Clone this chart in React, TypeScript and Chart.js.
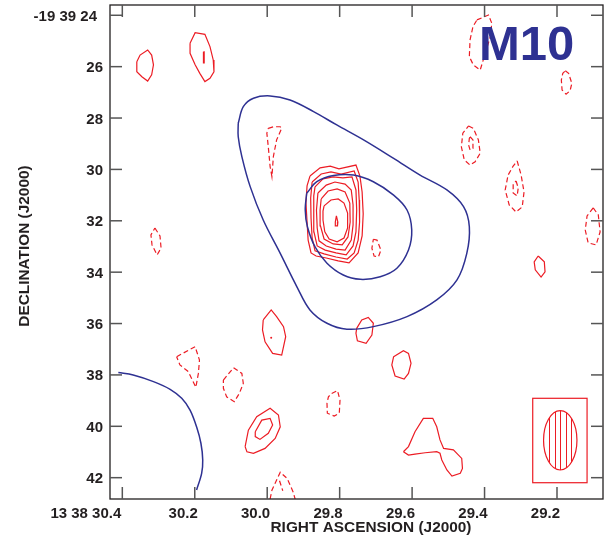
import React, { useEffect, useRef } from "react";
import { Chart, registerables } from "chart.js";
Chart.register(...registerables);

type P = [number, number];

// axis ticks
const raTicks = [30.4, 30.2, 30.0, 29.8, 29.6, 29.4, 29.2];
const raTickLabels = ["13 38 30.4", "30.2", "30.0", "29.8", "29.6", "29.4", "29.2"];
const decTicks = [24, 26, 28, 30, 32, 34, 36, 38, 40, 42];
const decTickLabels = ["-19 39 24", "26", "28", "30", "32", "34", "36", "38", "40", "42"];
const raRange = [29.073, 30.434];
const decRange = [23.6, 42.83];

const xTitle = "RIGHT ASCENSION (J2000)";
const yTitle = "DECLINATION (J2000)";
const fieldName = "M10";

// beam: [ra, dec, semi-minor (s), semi-major (arcsec)], box [ra1, ra2, dec1, dec2]
const beam = [29.191, 40.545, 0.0461, 1.156];
const beamBox = [29.267, 29.117, 38.91, 42.196];

// ---- blue (low-resolution) contours ----
const blueOuter: P[] = [
  [30.080, 28.20], [30.066, 27.56], [30.038, 27.23], [29.992, 27.14], [29.937, 27.30],
  [29.872, 27.75], [29.808, 28.27], [29.734, 28.85], [29.651, 29.57], [29.578, 30.22],
  [29.504, 30.80], [29.458, 31.45], [29.442, 32.23], [29.449, 33.27], [29.476, 34.30],
  [29.532, 35.08], [29.614, 35.73], [29.707, 36.12], [29.780, 36.22], [29.835, 35.99],
  [29.882, 35.47], [29.918, 34.57], [29.964, 33.27], [30.011, 31.97], [30.047, 30.67],
  [30.070, 29.50], [30.080, 28.73],
];
const blueInner: P[] = [
  [29.891, 30.93], [29.863, 30.48], [29.817, 30.24], [29.762, 30.22], [29.707, 30.48],
  [29.651, 31.00], [29.614, 31.58], [29.601, 32.36], [29.610, 33.14], [29.642, 33.85],
  [29.688, 34.18], [29.743, 34.28], [29.790, 34.11], [29.835, 33.65], [29.868, 33.01],
  [29.889, 32.23], [29.895, 31.58],
];
const blueArc: P[] = [
  [30.411, 37.91], [30.370, 38.00], [30.314, 38.26], [30.268, 38.56], [30.236, 38.91],
  [30.213, 39.37], [30.195, 40.02], [30.183, 40.66], [30.178, 41.31], [30.181, 41.83],
  [30.195, 42.48],
];

// ---- red positive contours (solid) ----
const coreR1: P[] = [
  [29.882, 30.26], [29.854, 29.94], [29.826, 29.87], [29.802, 29.98], [29.755, 29.83],
  [29.744, 30.26], [29.738, 30.88], [29.735, 31.73], [29.738, 32.59], [29.749, 33.25],
  [29.774, 33.64], [29.804, 33.56], [29.837, 33.45], [29.865, 33.37], [29.879, 33.25],
  [29.887, 32.75], [29.890, 32.05], [29.893, 31.31], [29.890, 30.64],
];
const coreR2: P[] = [
  [29.876, 30.49], [29.851, 30.18], [29.824, 30.10], [29.796, 30.18], [29.760, 30.06],
  [29.749, 30.49], [29.746, 31.19], [29.745, 32.05], [29.749, 32.75], [29.760, 33.25],
  [29.779, 33.49], [29.810, 33.41], [29.843, 33.29], [29.868, 33.17], [29.876, 32.67],
  [29.879, 31.89], [29.880, 31.11],
];
const coreR3: P[] = [
  [29.868, 30.68], [29.846, 30.37], [29.818, 30.29], [29.791, 30.33], [29.766, 30.29],
  [29.755, 30.80], [29.753, 31.58], [29.755, 32.43], [29.763, 32.98], [29.782, 33.33],
  [29.810, 33.25], [29.840, 33.14], [29.862, 32.98], [29.871, 32.43], [29.872, 31.66],
  [29.871, 31.03],
];
const coreR4: P[] = [
  [29.860, 30.92], [29.837, 30.61], [29.813, 30.49], [29.785, 30.57], [29.768, 30.80],
  [29.763, 31.38], [29.763, 32.16], [29.768, 32.75], [29.785, 33.14], [29.810, 33.10],
  [29.837, 32.98], [29.857, 32.78], [29.862, 32.28], [29.864, 31.58],
];
const coreR5: P[] = [
  [29.851, 31.15], [29.832, 30.84], [29.807, 30.76], [29.785, 30.88], [29.772, 31.31],
  [29.771, 32.05], [29.777, 32.63], [29.793, 32.94], [29.818, 32.90], [29.843, 32.71],
  [29.853, 32.20], [29.854, 31.58],
];
const coreR6: P[] = [
  [29.843, 31.42], [29.824, 31.19], [29.804, 31.15], [29.788, 31.31], [29.778, 31.70],
  [29.778, 32.28], [29.788, 32.67], [29.807, 32.82], [29.829, 32.71], [29.841, 32.43],
  [29.846, 31.97], [29.846, 31.62],
];
const corePeak: P[] = [[29.809, 31.81], [29.805, 32.05], [29.806, 32.20], [29.811, 32.20], [29.812, 32.05]];

const posA: P[] = [
  [30.360, 25.81], [30.351, 25.55], [30.330, 25.35], [30.319, 25.55], [30.314, 25.93],
  [30.319, 26.32], [30.330, 26.56], [30.346, 26.39], [30.360, 26.20],
];
const posB: P[] = [
  [30.213, 25.09], [30.199, 24.68], [30.172, 24.74], [30.158, 25.22], [30.149, 25.74],
  [30.147, 26.20], [30.158, 26.45], [30.172, 26.58], [30.186, 26.26], [30.199, 25.93],
  [30.213, 25.48],
];
const posBPeak: P[] = [[30.176, 25.42], [30.174, 25.42], [30.174, 25.85], [30.176, 25.85]];
const posC: P[] = [[29.252, 33.37], [29.235, 33.60], [29.233, 33.99], [29.244, 34.19], [29.260, 33.91], [29.263, 33.60]];
const posD: P[] = [
  [30.011, 35.86], [29.989, 35.47], [29.974, 35.73], [29.955, 36.12], [29.949, 36.51],
  [29.960, 37.23], [29.985, 37.16], [30.006, 36.71], [30.013, 36.25],
];
const posDot: P[] = [[29.989, 36.55]];
const posEOuter: P[] = [
  [30.061, 40.79], [30.052, 40.15], [30.029, 39.63], [29.992, 39.30], [29.969, 39.56],
  [29.964, 40.02], [29.978, 40.47], [30.006, 40.86], [30.038, 41.05], [30.056, 40.99],
];
const posEInner: P[] = [
  [30.033, 40.21], [30.015, 39.76], [29.992, 39.69], [29.985, 39.95], [29.997, 40.27],
  [30.020, 40.51], [30.033, 40.40],
];
const posF: P[] = [
  [29.753, 36.19], [29.739, 35.86], [29.721, 35.76], [29.707, 35.99], [29.711, 36.45],
  [29.727, 36.77], [29.751, 36.67], [29.755, 36.38],
];
const posG: P[] = [
  [29.651, 37.29], [29.624, 37.06], [29.610, 37.16], [29.603, 37.55], [29.610, 37.94],
  [29.622, 38.16], [29.647, 38.04], [29.656, 37.61],
];
const posH: P[] = [
  [29.624, 40.99], [29.610, 40.79], [29.592, 40.21], [29.569, 39.69], [29.543, 39.69],
  [29.532, 40.02], [29.523, 40.53], [29.513, 40.86], [29.486, 40.92], [29.463, 41.25],
  [29.461, 41.64], [29.467, 41.83], [29.490, 41.94], [29.504, 41.70], [29.518, 41.31],
  [29.523, 41.05], [29.532, 40.99], [29.564, 41.03], [29.592, 41.08], [29.610, 41.12],
];

// ---- red negative contours (dashed) ----
const negA: P[] = [
  [29.997, 28.40], [29.983, 28.34], [29.964, 28.34], [29.960, 28.40], [29.974, 28.85],
  [29.983, 29.50], [29.987, 30.28], [29.992, 29.89], [29.997, 29.12], [30.001, 28.59],
];
const negB: P[] = [
  [29.421, 24.18], [29.389, 23.99], [29.380, 24.31], [29.384, 24.83], [29.398, 25.48],
  [29.412, 26.13], [29.431, 25.93], [29.442, 25.61], [29.440, 24.96], [29.432, 24.44],
];
const negC: P[] = [
  [29.177, 26.16], [29.168, 26.26], [29.159, 26.65], [29.164, 26.94], [29.175, 27.07],
  [29.186, 26.91], [29.188, 26.52], [29.184, 26.26],
];
const negDOuter: P[] = [
  [29.444, 28.31], [29.431, 28.40], [29.417, 28.85], [29.412, 29.37], [29.426, 29.70],
  [29.440, 29.83], [29.456, 29.63], [29.464, 29.12], [29.460, 28.59],
];
const negDInner: P[] = [[29.440, 28.73], [29.432, 28.85], [29.432, 29.18], [29.440, 29.24], [29.444, 29.05], [29.442, 28.79]];
const negEOuter: P[] = [
  [29.310, 29.67], [29.299, 30.22], [29.291, 30.88], [29.296, 31.46], [29.313, 31.66],
  [29.332, 31.38], [29.343, 30.80], [29.335, 30.22], [29.321, 29.87],
];
const negEInner: P[] = [[29.313, 30.45], [29.307, 30.72], [29.310, 31.03], [29.321, 30.92], [29.321, 30.57]];
const negF: P[] = [[29.100, 31.50], [29.086, 31.77], [29.081, 32.43], [29.092, 32.94], [29.114, 32.86], [29.122, 32.36], [29.117, 31.81]];
const negG: P[] = [[30.310, 32.28], [30.296, 32.59], [30.293, 33.06], [30.304, 33.33], [30.318, 32.94], [30.321, 32.55]];
const negH: P[] = [[29.707, 32.72], [29.697, 32.75], [29.686, 33.14], [29.693, 33.40], [29.705, 33.37], [29.711, 33.07]];
const negI: P[] = [[30.250, 37.29], [30.199, 36.90], [30.187, 37.42], [30.190, 37.94], [30.197, 38.48], [30.218, 37.87], [30.241, 37.61]];
const negJ: P[] = [
  [30.121, 38.20], [30.093, 37.72], [30.070, 37.94], [30.066, 38.33], [30.077, 38.72],
  [30.091, 39.04], [30.112, 38.85], [30.121, 38.52],
];
const negK: P[] = [
  [29.822, 38.72], [29.806, 38.61], [29.799, 38.98], [29.801, 39.49], [29.815, 39.60],
  [29.834, 39.49], [29.835, 39.10], [29.831, 38.85],
];
const negLOpen: P[] = [[29.992, 42.83], [29.987, 42.49], [29.964, 41.79], [29.945, 42.03], [29.928, 42.57], [29.923, 42.83]];
const negLInnerOpen: P[] = [[29.966, 42.12], [29.957, 42.51]];

const RED = "#ec1c24";
const BLUE = "#2e3192";
const INK = "#231f20";

const closedPos = [coreR1, coreR2, coreR3, coreR4, coreR5, coreR6, corePeak, posA, posB, posBPeak, posC, posD, posEOuter, posEInner, posF, posG, posH];
const closedNeg = [negA, negB, negC, negDOuter, negDInner, negEOuter, negEInner, negF, negG, negH, negI, negJ, negK];
const openNeg = [negLOpen, negLInnerOpen];

function toXY(pts: P[], close: boolean) {
  const arr = pts.map(([x, y]) => ({ x, y }));
  if (close && pts.length > 1) arr.push({ x: pts[0][0], y: pts[0][1] });
  return arr;
}

function lineSet(pts: P[], close: boolean, color: string, width: number, dash: number[], tension: number) {
  return {
    data: toXY(pts, close),
    showLine: true,
    borderColor: color,
    borderWidth: width,
    borderDash: dash,
    pointRadius: 0,
    fill: false,
    tension,
  };
}

const framePlugin = {
  id: "framePlugin",
  afterDraw(chart: any) {
    const { ctx, chartArea: a } = chart;
    const x = chart.scales.x;
    const y = chart.scales.y;
    ctx.save();

    // beam box and hatched ellipse
    const bx1 = x.getPixelForValue(beamBox[0]);
    const bx2 = x.getPixelForValue(beamBox[1]);
    const by1 = y.getPixelForValue(beamBox[2]);
    const by2 = y.getPixelForValue(beamBox[3]);
    ctx.strokeStyle = RED;
    ctx.lineWidth = 1.2;
    ctx.strokeRect(bx1, by1, bx2 - bx1, by2 - by1);
    const cx = x.getPixelForValue(beam[0]);
    const cy = y.getPixelForValue(beam[1]);
    const rx = Math.abs(x.getPixelForValue(beam[0] - beam[2]) - cx);
    const ry = Math.abs(y.getPixelForValue(beam[1] + beam[3]) - cy);
    ctx.beginPath();
    ctx.ellipse(cx, cy, rx, ry, 0, 0, Math.PI * 2);
    ctx.stroke();
    ctx.save();
    ctx.beginPath();
    ctx.ellipse(cx, cy, rx, ry, 0, 0, Math.PI * 2);
    ctx.clip();
    ctx.lineWidth = 1;
    for (let k = -3; k <= 3; k++) {
      const lx = Math.round(cx + k * 5.6) + 0.5;
      ctx.beginPath();
      ctx.moveTo(lx, cy - ry);
      ctx.lineTo(lx, cy + ry);
      ctx.stroke();
    }
    ctx.restore();

    // frame
    ctx.strokeStyle = INK;
    ctx.lineWidth = 1.3;
    ctx.strokeRect(a.left, a.top, a.right - a.left, a.bottom - a.top);

    // inward ticks on all sides
    ctx.strokeStyle = "#555";
    ctx.lineWidth = 1.5;
    const seg = (x1: number, y1: number, x2: number, y2: number) => {
      ctx.beginPath();
      ctx.moveTo(x1, y1);
      ctx.lineTo(x2, y2);
      ctx.stroke();
    };
    raTicks.forEach((v) => {
      const px = x.getPixelForValue(v);
      seg(px, a.bottom, px, a.bottom - 12);
      seg(px, a.top, px, a.top + 12);
    });
    decTicks.forEach((v) => {
      const py = y.getPixelForValue(v);
      seg(a.left, py, a.left + 12, py);
      seg(a.right, py, a.right - 12, py);
    });

    // tick labels
    ctx.fillStyle = INK;
    ctx.font = "bold 15px 'Liberation Sans', Arial, sans-serif";
    ctx.textBaseline = "alphabetic";
    ctx.textAlign = "right";
    raTickLabels.forEach((t, i) => {
      const px = x.getPixelForValue(raTicks[i]);
      ctx.fillText(t, px + (i === 0 ? -1 : 3), a.bottom + 18.5);
    });
    decTickLabels.forEach((t, i) => {
      const py = y.getPixelForValue(decTicks[i]);
      ctx.fillText(t, a.left - (i === 0 ? 13 : 7), py + 5.5);
    });

    // axis titles
    ctx.font = "bold 15.4px 'Liberation Sans', Arial, sans-serif";
    ctx.textAlign = "center";
    ctx.fillText(xTitle, 371, a.bottom + 33);
    ctx.save();
    ctx.translate(28.5, 246);
    ctx.rotate(-Math.PI / 2);
    ctx.fillText(yTitle, 0, 0);
    ctx.restore();

    // field name
    ctx.fillStyle = BLUE;
    ctx.font = "bold 49px 'Liberation Sans', Arial, sans-serif";
    ctx.textAlign = "left";
    ctx.fillText(fieldName, 479, 60);

    ctx.restore();
  },
};

export default function App() {
  const ref = useRef<HTMLCanvasElement | null>(null);
  useEffect(() => {
    if (!ref.current) return;
    const datasets: any[] = [];
    datasets.push(lineSet(blueOuter, true, BLUE, 1.5, [], 0.35));
    datasets.push(lineSet(blueInner, true, BLUE, 1.5, [], 0.35));
    datasets.push(lineSet(blueArc, false, BLUE, 1.5, [], 0.35));
    closedPos.forEach((c) => datasets.push(lineSet(c, true, RED, 1.2, [], 0)));
    closedNeg.forEach((c) => datasets.push(lineSet(c, true, RED, 1.2, [5, 3], 0)));
    openNeg.forEach((c) => datasets.push(lineSet(c, false, RED, 1.2, [5, 3], 0)));
    datasets.push({
      data: toXY(posDot, false),
      showLine: false,
      pointRadius: 1,
      pointBackgroundColor: RED,
      pointBorderWidth: 0,
    });

    const chart = new Chart(ref.current, {
      type: "scatter",
      data: { datasets },
      options: {
        responsive: false,
        animation: false,
        devicePixelRatio: 1,
        events: [],
        layout: { padding: { left: 110, top: 5, right: 11, bottom: 37 } },
        scales: {
          x: { type: "linear", display: false, reverse: true, min: raRange[0], max: raRange[1] },
          y: { type: "linear", display: false, reverse: true, min: decRange[0], max: decRange[1] },
        },
        plugins: { legend: { display: false }, tooltip: { enabled: false } },
      },
      plugins: [framePlugin],
    } as any);
    return () => chart.destroy();
  }, []);

  return (
    <div style={{ position: "absolute", left: 0, top: 0, width: 614, height: 536, background: "#fff" }}>
      <canvas ref={ref} width={614} height={536} style={{ display: "block" }} />
    </div>
  );
}
